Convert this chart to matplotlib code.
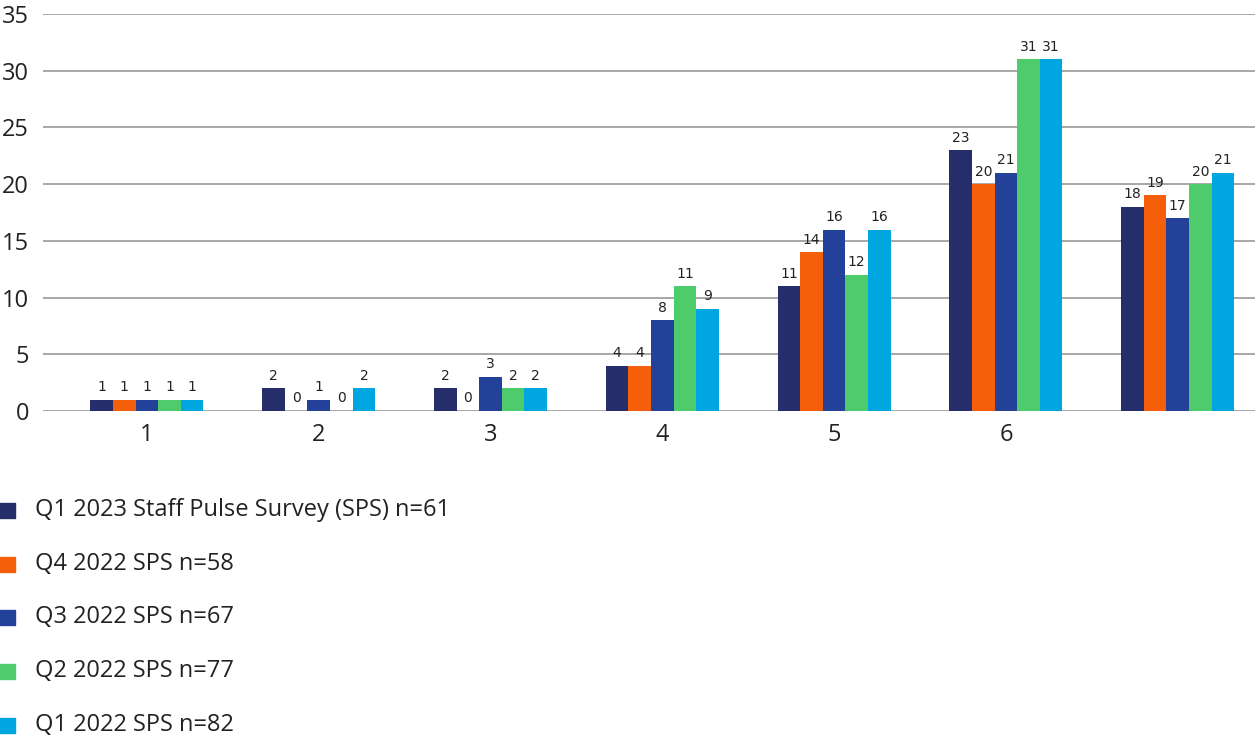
import numpy as np
import matplotlib.pyplot as plt
from matplotlib.patches import Rectangle

# survey response counts per rating (1..6 plus an unlabelled last group)
groups = ["1", "2", "3", "4", "5", "6", ""]
series = [
    "Q1 2023 Staff Pulse Survey (SPS) n=61",
    "Q4 2022 SPS n=58",
    "Q3 2022 SPS n=67",
    "Q2 2022 SPS n=77",
    "Q1 2022 SPS n=82",
]
q1_2023 = [1, 2, 2, 4, 11, 23, 18]
q4_2022 = [1, 0, 0, 4, 14, 20, 19]
q3_2022 = [1, 1, 3, 8, 16, 21, 17]
q2_2022 = [1, 0, 2, 11, 12, 31, 20]
q1_2022 = [1, 2, 2, 9, 16, 31, 21]
values = [q1_2023, q4_2022, q3_2022, q2_2022, q1_2022]
colors = ["#252d6b", "#f55f0a", "#24419a", "#4ecb6a", "#00a6e0"]

main_font = "Open Sans"

fig = plt.figure(figsize=(12.55, 7.44), dpi=100)
ax = fig.add_axes([43 / 1255, 1 - 411 / 744, 1 - 43 / 1255, (411 - 14) / 744])

x = np.arange(len(groups))
width = 0.1316
for i, (vals, col) in enumerate(zip(values, colors)):
    pos = x + (i - 2) * width
    ax.bar(pos, vals, width, color=col, zorder=3)
    for px, v in zip(pos, vals):
        ax.annotate(str(v), (px, v), xytext=(0, 4), textcoords="offset points",
                    ha="center", va="bottom", fontsize=10, color="#222222",
                    family="DejaVu Sans")

ax.set_xlim(-0.605, 6.45)
ax.set_ylim(0, 35)
ax.set_yticks(range(0, 36, 5))
ax.set_xticks(x)
ax.set_xticklabels(groups)
ax.grid(axis="y", color="#a0a0a0", linewidth=1.3, zorder=0)
for s in ax.spines.values():
    s.set_visible(False)
ax.tick_params(length=0, labelsize=17, colors="#222222", pad=10)
ax.tick_params(axis="x", pad=9)
for lab in ax.get_xticklabels() + ax.get_yticklabels():
    lab.set_family(main_font)

# legend below the plot, one entry per row
ys = [510, 564, 617, 671, 725]
for name, col, yp in zip(series, colors, ys):
    fig.patches.append(Rectangle((0, 1 - (yp + 7.5) / 744), 15 / 1255, 15 / 744,
                                 color=col, transform=fig.transFigure))
    fig.text(35 / 1255, 1 - yp / 744, name, fontsize=17, va="center", ha="left",
             color="#222222", family=main_font)

fig.savefig("out.png", dpi=100)
